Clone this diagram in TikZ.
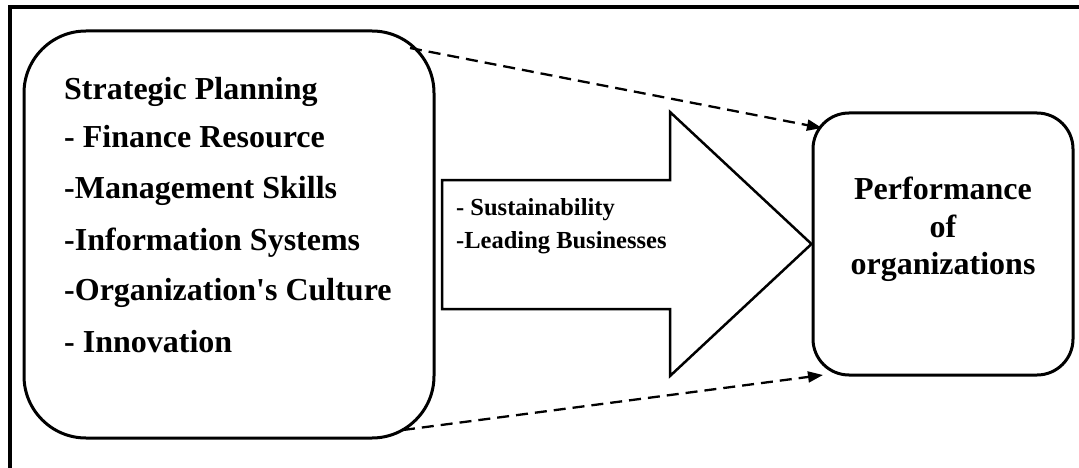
\documentclass[tikz,border=0pt]{standalone}
\usepackage{fontspec}
\setmainfont{Liberation Serif}
\usetikzlibrary{arrows.meta}
\begin{document}
\begin{tikzpicture}[x=1pt,y=-1pt,
  box/.style={draw,line width=3pt,rectangle,inner sep=0pt},
  itemtxt/.style={anchor=base west,inner sep=0pt,font=\fontsize{32}{36}\selectfont\bfseries},
  flowtxt/.style={anchor=base west,inner sep=0pt,font=\fontsize{24.5}{28}\selectfont\bfseries},
  perftxt/.style={anchor=base,inner sep=0pt,font=\fontsize{32}{36}\selectfont\bfseries},
  link/.style={line width=2.3pt,dash pattern=on 12pt off 7pt,-{Triangle[length=15pt,width=11pt]}}]
\useasboundingbox (0,0) rectangle (1079,468);
% outer frame (only top and left edges visible)
\draw[line width=3.5pt] (10,470) -- (10,7) -- (1081,7);
% left box with the planning factors
\node[box,rounded corners=62pt,minimum width=410pt,minimum height=407pt] (plan) at (229,234.5) {};
\node[itemtxt] (t1) at (64,100) {Strategic Planning};
\node[itemtxt] (t2) at (64,148) {- Finance Resource};
\node[itemtxt] (t3) at (64,198) {-Management Skills};
\node[itemtxt] (t4) at (64,250) {-Information Systems};
\node[itemtxt] (t5) at (64,300) {-Organization\textquotesingle s Culture};
\node[itemtxt] (t6) at (64,352) {- Innovation};
% right box
\node[box,rounded corners=36pt,minimum width=260pt,minimum height=262pt] (perf) at (943,244) {};
\node[perftxt] (p1) at (943,200) {Performance};
\node[perftxt] (p2) at (943,237) {of};
\node[perftxt] (p3) at (943,274) {organizations};
% block arrow between the boxes
\draw[line width=2.5pt,line join=miter] (442,180) -- (670,180) -- (670,112) -- (perf.west) -- (670,376) -- (670,309) -- (442,309) -- cycle;
\node[flowtxt] (f1) at (456,215) {- Sustainability};
\node[flowtxt] (f2) at (456,248) {-Leading Businesses};
% dashed links
\coordinate (a1) at (410,48);
\coordinate (b1) at (822,128);
\coordinate (a2) at (403,430);
\coordinate (b2) at (823,375);
\draw[link] (a1) -- (b1);
\draw[link] (a2) -- (b2);
\end{tikzpicture}
\end{document}
